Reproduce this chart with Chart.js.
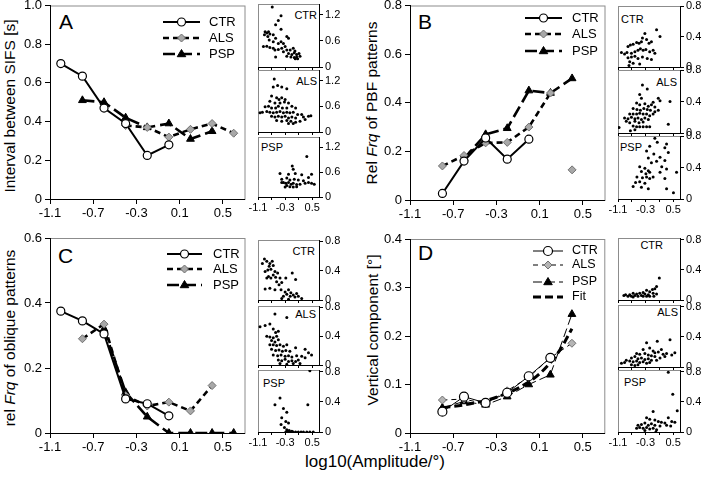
<!DOCTYPE html>
<html>
<head>
<meta charset="utf-8">
<script src="https://cdn.jsdelivr.net/npm/chart.js@4.4.1/dist/chart.umd.min.js"></script>
<style>
body { margin: 0; background: #fff; }
#wrap { position: relative; width: 708px; height: 478px; overflow: hidden; background: #fff;
        font-family: "Liberation Sans", Arial, sans-serif; color: #000; }
canvas { position: absolute; }
.t { position: absolute; white-space: nowrap; line-height: 1; transform: translateY(-50%); }
.tr { position: absolute; white-space: nowrap; line-height: 1; transform: translate(-100%, -50%); }
.yt { position: absolute; white-space: nowrap; line-height: 1; font-size: 15.5px;
      transform: translate(-50%, -50%) rotate(-90deg); }
.lab { font-size: 11px; }
.big { font-size: 21px; }
</style>
</head>
<body>
<div id="wrap">
  <div class="yt" style="left:10px; top:106px;">Interval between SIFS [s]</div>
  <div class="yt" style="left:372px; top:103px;">Rel <i>Frq</i> of PBF patterns</div>
  <div class="yt" style="left:10px; top:338px;">rel <i>Frq</i> of oblique patterns</div>
  <div class="yt" style="left:373px; top:330px;">Vertical component [°]</div>
  <div class="t" style="left:305px; top:461px; font-size:17px;">log10(Amplitude/°)</div>

  <div class="t big" style="left:59px; top:21px;">A</div>
  <div class="t big" style="left:418px; top:21px;">B</div>
  <div class="t big" style="left:58px; top:255px;">C</div>
  <div class="t big" style="left:418px; top:252px;">D</div>

  <div class="tr lab" style="left:317px; top:15px;">CTR</div>
  <div class="tr lab" style="left:317px; top:81px;">ALS</div>
  <div class="t lab" style="left:261px; top:147px;">PSP</div>
  <div class="t lab" style="left:621px; top:19px;">CTR</div>
  <div class="tr lab" style="left:677px; top:82px;">ALS</div>
  <div class="t lab" style="left:620px; top:147px;">PSP</div>
  <div class="tr lab" style="left:315px; top:251px;">CTR</div>
  <div class="tr lab" style="left:316px; top:314px;">ALS</div>
  <div class="t lab" style="left:263px; top:383px;">PSP</div>
  <div class="tr lab" style="left:663px; top:245px;">CTR</div>
  <div class="tr lab" style="left:678px; top:312px;">ALS</div>
  <div class="t lab" style="left:624px; top:382px;">PSP</div>
</div>
<script>
const family = '"Liberation Sans", Arial, sans-serif';
const mainXTicks = [-1.1, -0.7, -0.3, 0.1, 0.5];
const insetXTicks = [-1.1, -0.7, -0.3, 0.1, 0.5];
const insetXLabels = [-1.1, -0.3, 0.5];

// panel A - interval between SIFS
const aCtrX = [-1.0, -0.8, -0.6, -0.4, -0.2, 0.0];
const aCtrY = [0.70, 0.635, 0.47, 0.39, 0.225, 0.28];
const aAlsX = [-0.4, -0.2, 0.0, 0.2, 0.4, 0.6];
const aAlsY = [0.38, 0.37, 0.32, 0.36, 0.39, 0.34];
const aPspX = [-0.8, -0.6, -0.4, -0.2, 0.0, 0.2, 0.4];
const aPspY = [0.51, 0.50, 0.42, 0.37, 0.39, 0.31, 0.35];
const aYTicks = [0, 0.2, 0.4, 0.6, 0.8, 1.0];

// panel B - rel frq of PBF patterns (last ALS point stands alone)
const bCtrX = [-0.8, -0.6, -0.4, -0.2, 0.0];
const bCtrY = [0.027, 0.16, 0.255, 0.168, 0.25];
const bAlsX = [-0.8, -0.6, -0.4, -0.2, 0.0, 0.2, 0.3, 0.4];
const bAlsY = [0.14, 0.183, 0.235, 0.237, 0.30, 0.44, null, 0.124];
const bPspX = [-0.6, -0.4, -0.2, 0.0, 0.2, 0.4];
const bPspY = [0.17, 0.27, 0.295, 0.45, 0.44, 0.50];
const bYTicks = [0, 0.2, 0.4, 0.6, 0.8];

// panel C - rel frq of oblique patterns
const cCtrX = [-1.0, -0.8, -0.6, -0.4, -0.2, 0.0];
const cCtrY = [0.375, 0.345, 0.305, 0.105, 0.09, 0.053];
const cAlsX = [-0.8, -0.6, -0.4, -0.2, 0.0, 0.2, 0.4];
const cAlsY = [0.29, 0.335, 0.115, 0.083, 0.095, 0.068, 0.146];
const cPspX = [-0.6, -0.4, -0.2, 0.0, 0.2, 0.4, 0.6];
const cPspY = [0.32, 0.125, 0.05, 0, 0, 0, 0];
const cYTicks = [0, 0.2, 0.4, 0.6];

// panel D - vertical component
const dCtrX = [-0.8, -0.6, -0.4, -0.2, 0.0, 0.2];
const dCtrY = [0.044, 0.075, 0.062, 0.083, 0.117, 0.155];
const dAlsX = [-0.8, -0.6, -0.4, -0.2, 0.0, 0.2, 0.4];
const dAlsY = [0.068, 0.07, 0.06, 0.087, 0.115, 0.155, 0.185];
const dPspX = [-0.8, -0.6, -0.4, -0.2, 0.0, 0.2, 0.4];
const dPspY = [0.052, 0.065, 0.058, 0.075, 0.10, 0.12, 0.245];
const dFitX = [-0.8, -0.6, -0.4, -0.2, 0.0, 0.1, 0.2, 0.3, 0.4];
const dFitY = [0.052, 0.058, 0.067, 0.082, 0.105, 0.122, 0.145, 0.175, 0.215];
const dYTicks = [0, 0.1, 0.2, 0.3, 0.4];

// inset scatter points [x, y]
const aCtrPts = [[-0.68,1.38],[-0.42,1.18],[-0.5,1.07],[-0.58,0.97],[-0.42,0.87],[-0.89,0.81],[-0.84,0.78],[-0.79,0.81],
  [-0.91,0.74],[-0.81,0.70],[-0.75,0.76],[-0.65,0.74],[-0.58,0.66],[-0.77,0.62],[-0.25,0.70],[-0.2,0.66],[-0.65,0.58],
  [-0.5,0.54],[-0.42,0.58],[-0.35,0.54],[-0.94,0.47],[-0.84,0.48],[-0.75,0.45],[-0.65,0.43],[-0.6,0.39],[-0.5,0.40],
  [-0.4,0.43],[-0.3,0.47],[-0.35,0.35],[-0.25,0.39],[-0.15,0.39],[-0.06,0.43],[-0.01,0.37],[-0.2,0.31],[-0.1,0.29],
  [-0.03,0.33],[0.04,0.29],[0.11,0.31],[-0.25,0.25],[-0.13,0.23],[-0.03,0.22],[0.04,0.23],[0.14,0.25],[-0.58,0.23],
  [0.0,0.19],[0.07,0.19]];
const aAlsPts = [[-0.62,1.24],[-0.52,1.09],[-0.4,1.05],[-0.25,1.01],[-0.65,1.05],[-0.7,0.84],[-0.55,0.80],[-0.48,0.76],
  [-0.4,0.8],[-0.3,0.76],[-0.75,0.72],[-0.6,0.68],[-0.45,0.68],[-0.32,0.70],[-0.2,0.68],[-0.1,0.60],[-0.89,0.59],
  [-0.79,0.60],[-0.7,0.56],[-0.58,0.56],[-0.5,0.60],[-0.38,0.56],[-0.25,0.56],[0.01,0.56],[-1.04,0.45],[-0.97,0.46],
  [-0.84,0.48],[-0.75,0.46],[-0.65,0.45],[-0.55,0.46],[-0.45,0.48],[-0.35,0.45],[-0.25,0.46],[-0.16,0.45],[-0.06,0.46],
  [0.07,0.41],[0.19,0.41],[-0.7,0.37],[-0.6,0.35],[-0.5,0.37],[-0.4,0.35],[-0.3,0.37],[-0.2,0.33],[-0.1,0.35],[0.01,0.33],
  [0.24,0.35],[0.39,0.37],[0.46,0.38],[-0.55,0.27],[-0.4,0.25],[-0.25,0.27],[-0.13,0.25],[0.01,0.23],[0.14,0.25],
  [0.29,0.29],[-0.2,0.2],[-0.06,0.2]];
const aPspPts = [[0.34,0.98],[-0.09,0.75],[-0.06,0.67],[-0.45,0.57],[-0.2,0.55],[0.0,0.57],[0.19,0.54],[0.48,0.55],
  [0.39,0.47],[-0.4,0.43],[-0.25,0.46],[-0.16,0.41],[-0.03,0.43],[0.09,0.41],[0.24,0.39],[0.39,0.35],[0.48,0.33],
  [0.56,0.31],[-0.35,0.35],[-0.28,0.33],[-0.2,0.35],[-0.12,0.31],[-0.06,0.33],[0.04,0.3],[0.14,0.31],[0.29,0.33],
  [-0.25,0.28],[-0.16,0.25],[-0.06,0.24],[0.04,0.25],[-0.3,0.24],[-0.4,0.35]];
const bCtrPts = [[0.02,0.49],[0.12,0.40],[-0.32,0.44],[-0.39,0.38],[-0.27,0.36],[-0.42,0.33],[-0.49,0.31],[-0.56,0.32],
  [-0.66,0.30],[-0.74,0.29],[-0.81,0.27],[-0.2,0.31],[-0.13,0.33],[-1.0,0.19],[-0.91,0.17],[-0.84,0.19],[-0.71,0.18],
  [-0.61,0.2],[-0.52,0.22],[-0.45,0.24],[-0.37,0.22],[-0.29,0.23],[-0.18,0.2],[-0.08,0.22],[-0.03,0.18],[-0.81,0.12],
  [-0.71,0.13],[-0.61,0.14],[-0.52,0.11],[-0.39,0.13],[-0.25,0.11],[-0.13,0.1],[-0.76,0.07],[-0.66,0.05],[-0.78,0.02],
  [-0.47,0.04]];
const bAlsPts = [[-0.39,0.61],[-0.25,0.56],[-0.47,0.49],[-0.42,0.44],[0.07,0.44],[0.12,0.41],[0.41,0.40],[-0.08,0.39],
  [-0.56,0.38],[-0.47,0.36],[-0.32,0.37],[-0.22,0.34],[-0.13,0.36],[-0.03,0.33],[-0.66,0.31],[-0.55,0.30],[-0.45,0.29],
  [-0.35,0.31],[-0.25,0.30],[-0.16,0.29],[-0.03,0.27],[0.07,0.29],[-0.76,0.24],[-0.66,0.24],[-0.56,0.24],[-0.47,0.25],
  [-0.37,0.24],[-0.27,0.24],[-0.18,0.22],[-0.08,0.24],[-0.91,0.19],[-0.81,0.18],[-0.71,0.2],[-0.61,0.18],[-0.52,0.19],
  [-0.42,0.17],[-0.32,0.19],[-0.22,0.17],[-0.86,0.15],[-0.76,0.13],[-0.61,0.15],[-0.49,0.13],[-0.37,0.14],[0.36,0.11],
  [-0.66,0.09],[-0.56,0.08],[-0.47,0.08],[-0.37,0.08],[-0.27,0.08],[-0.18,0.08],[-1.07,0.07],[-0.74,0.03],[-0.61,0.04]];
const bPspPts = [[-0.03,0.77],[0.04,0.72],[0.31,0.70],[-0.18,0.67],[0.26,0.65],[-0.27,0.61],[0.36,0.59],[-0.06,0.57],
  [0.12,0.53],[-0.22,0.52],[0.02,0.48],[0.26,0.49],[-0.13,0.46],[-0.47,0.41],[0.17,0.41],[-0.32,0.39],[0.31,0.38],
  [-0.22,0.36],[-0.42,0.35],[-0.29,0.32],[-0.18,0.34],[0.12,0.34],[0.6,0.34],[-0.55,0.28],[-0.39,0.27],[-0.27,0.28],
  [-0.18,0.26],[-0.08,0.28],[0.26,0.26],[-0.59,0.21],[-0.47,0.22],[-0.32,0.2],[-0.66,0.16],[-0.42,0.15],[-0.22,0.13],
  [0.31,0.13],[0.51,0.08]];
const cCtrPts = [[-0.91,0.56],[-0.84,0.53],[-0.97,0.5],[-0.75,0.5],[-0.68,0.53],[-0.77,0.46],[-0.65,0.47],[-0.72,0.42],
  [-0.81,0.41],[-0.89,0.39],[-0.6,0.39],[-0.52,0.37],[-0.65,0.34],[-0.79,0.32],[-0.84,0.3],[-0.72,0.3],[-0.58,0.31],
  [-0.45,0.3],[-0.28,0.3],[-0.09,0.37],[0.01,0.28],[-0.55,0.25],[-0.4,0.24],[-0.48,0.21],[-0.75,0.16],[-0.89,0.15],
  [-0.6,0.14],[-0.42,0.14],[-0.3,0.11],[-0.2,0.14],[-0.13,0.1],[-0.25,0.08],[-0.06,0.07],[0.04,0.09],[0.09,0.05],
  [-0.35,0.05],[-0.15,0.05],[-0.01,0.04],[0.19,0.02],[-0.2,0.01],[-0.4,0.02]];
const cAlsPts = [[-0.25,0.66],[-0.6,0.71],[-1.04,0.53],[-0.89,0.55],[-0.75,0.57],[-0.65,0.5],[-0.58,0.45],[-0.5,0.47],
  [-0.84,0.4],[-0.75,0.39],[-0.65,0.38],[-0.55,0.4],[-0.5,0.35],[-0.7,0.34],[-0.6,0.32],[-0.75,0.28],[-0.65,0.28],
  [-0.55,0.27],[-0.45,0.28],[-0.35,0.26],[-0.25,0.28],[0.01,0.24],[0.29,0.22],[-0.7,0.22],[-0.58,0.2],[-0.48,0.21],
  [-0.38,0.19],[-0.28,0.2],[-0.16,0.19],[0.39,0.17],[0.48,0.14],[-0.65,0.14],[-0.52,0.13],[-0.42,0.14],[-0.3,0.12],
  [-0.2,0.13],[-0.1,0.11],[0.04,0.13],[0.19,0.12],[0.29,0.1],[-0.5,0.07],[-0.4,0.06],[-0.3,0.08],[-0.2,0.05],[-0.1,0.06],
  [0.01,0.05],[0.09,0.07],[-0.45,0.02],[-0.25,0.01],[-0.06,0.02],[0.14,0.02]];
const cPspPts = [[0.43,0.81],[-0.6,0.36],[-0.45,0.45],[-0.35,0.31],[0.37,0.36],[-0.25,0.26],[-0.4,0.19],[-0.28,0.14],
  [-0.2,0.12],[-0.42,0.1],[-0.32,0.06],[-0.25,0.03],[-0.18,0.02],[-0.15,0],[-0.1,0.01],[-0.06,0],[0.01,0],[0.09,0],
  [0.17,0],[0.24,0],[0.34,0],[0.43,0],[0.53,0],[-0.22,0],[-0.28,0]];
const dCtrPts = [[0.1,0.29],[0.02,0.18],[-0.03,0.15],[-0.27,0.13],[-0.18,0.11],[-0.1,0.14],[-0.37,0.1],[-0.47,0.09],
  [-0.56,0.08],[-0.66,0.09],[-0.76,0.07],[-0.88,0.07],[-0.93,0.06],[-0.32,0.08],[-0.22,0.07],[-0.08,0.09],[0.02,0.08],
  [-0.42,0.06],[-0.52,0.05],[-0.61,0.06],[-0.71,0.05],[-0.81,0.05],[-0.18,0.05],[-0.06,0.05],[-0.27,0.05],[-0.37,0.05],
  [-0.66,0.04]];
const dAlsPts = [[0.41,0.36],[0.04,0.34],[-0.27,0.32],[0.16,0.23],[0.55,0.19],[0.31,0.18],[0.46,0.16],[-0.37,0.23],
  [-0.18,0.25],[-0.08,0.21],[-0.03,0.19],[0.07,0.2],[0.26,0.14],[0.21,0.17],[-0.56,0.18],[-0.47,0.17],[-0.32,0.18],
  [-0.22,0.16],[-0.13,0.15],[-0.03,0.14],[0.12,0.12],[-0.71,0.12],[-0.61,0.14],[-0.52,0.11],[-0.42,0.12],[-0.32,0.1],
  [-0.22,0.11],[-0.13,0.09],[0.02,0.09],[-0.86,0.09],[-0.76,0.08],[-0.66,0.07],[-0.56,0.08],[-0.47,0.06],[-0.37,0.07],
  [-0.27,0.05],[-0.18,0.06],[-1.0,0.05],[-0.91,0.06],[-0.71,0.03],[-0.61,0.02],[-0.52,0.03]];
const dPspPts = [[0.36,0.79],[0.49,0.5],[0.62,0.28],[-0.08,0.27],[0.36,0.19],[0.46,0.14],[0.55,0.13],[-0.27,0.19],
  [-0.18,0.17],[-0.03,0.16],[0.07,0.14],[0.16,0.13],[0.26,0.12],[-0.52,0.09],[-0.42,0.1],[-0.32,0.12],[-0.22,0.09],
  [-0.13,0.11],[-0.03,0.09],[0.12,0.08],[0.31,0.09],[0.43,0.08],[-0.47,0.06],[-0.37,0.05],[-0.27,0.06],[-0.18,0.04],
  [-0.08,0.05],[0.02,0.03],[-0.56,0.05],[-0.32,0.02],[0.0,0.0]];

const styleCTR = { borderColor: '#000', borderWidth: 2, pointStyle: 'circle', pointRadius: 4,
  pointBackgroundColor: '#fff', pointBorderColor: '#000', pointBorderWidth: 1.2 };
const styleALS = { borderColor: '#000', borderWidth: 2.6, borderDash: [6, 4], pointStyle: 'rectRot', pointRadius: 4,
  pointBackgroundColor: '#a8a8a8', pointBorderColor: '#707070', pointBorderWidth: 1 };
const stylePSP = { borderColor: '#000', borderWidth: 2.6, borderDash: [12, 5], pointStyle: 'triangle', pointRadius: 4.5,
  pointBackgroundColor: '#000', pointBorderColor: '#000', pointBorderWidth: 1 };
const styleCTRd = Object.assign({}, styleCTR, { borderWidth: 1, pointRadius: 4.5 });
const styleALSd = Object.assign({}, styleALS, { borderWidth: 1, borderDash: [5, 4], pointBackgroundColor: '#b5b5b5' });
const stylePSPd = Object.assign({}, stylePSP, { borderWidth: 1, borderDash: [9, 4] });
const styleFit = { borderColor: '#000', borderWidth: 3, borderDash: [8, 4], pointRadius: 0, tension: 0.4,
  cubicInterpolationMode: 'monotone' };

function series(xs, ys, style) {
  return Object.assign({ data: xs.map((x, i) => ({ x: x, y: ys[i] })), showLine: true }, style);
}

const framePlugin = {
  id: 'frame',
  beforeDraw(chart) {
    const a = chart.chartArea, ctx = chart.ctx;
    ctx.save();
    ctx.strokeStyle = '#8c8c8c';
    ctx.lineWidth = 1;
    ctx.strokeRect(a.left + 0.5, a.top + 0.5, a.right - a.left, a.bottom - a.top);
    ctx.restore();
  }
};

function marker(ctx, style, r, x, y) {
  ctx.beginPath();
  if (style === 'circle') {
    ctx.arc(x, y, r, 0, Math.PI * 2);
  } else if (style === 'rectRot') {
    ctx.moveTo(x, y - r); ctx.lineTo(x + r, y); ctx.lineTo(x, y + r); ctx.lineTo(x - r, y);
  } else if (style === 'triangle') {
    ctx.moveTo(x, y - r); ctx.lineTo(x + r * 0.95, y + r * 0.6); ctx.lineTo(x - r * 0.95, y + r * 0.6);
  }
  ctx.closePath();
  ctx.fill();
  ctx.stroke();
}

// legend: line sample with marker in the middle, then name
const keyPlugin = {
  id: 'key',
  afterDatasetsDraw(chart, args, opts) {
    if (!opts.names) return;
    const ctx = chart.ctx;
    opts.names.forEach((name, i) => {
      const ds = chart.data.datasets[i];
      const y = opts.ys[i];
      ctx.save();
      ctx.strokeStyle = ds.borderColor;
      ctx.lineWidth = ds.borderWidth;
      ctx.setLineDash(ds.borderDash || []);
      ctx.beginPath();
      ctx.moveTo(opts.x1, y);
      ctx.lineTo(opts.x2, y);
      ctx.stroke();
      ctx.setLineDash([]);
      if (ds.pointRadius > 0) {
        ctx.fillStyle = ds.pointBackgroundColor;
        ctx.strokeStyle = ds.pointBorderColor;
        ctx.lineWidth = ds.pointBorderWidth;
        marker(ctx, ds.pointStyle, ds.pointRadius, (opts.x1 + opts.x2) / 2, y);
      }
      ctx.fillStyle = '#000';
      ctx.font = opts.size + 'px ' + family;
      ctx.textBaseline = 'middle';
      ctx.fillText(name, opts.tx, y);
      ctx.restore();
    });
  }
};

function mkCanvas(box) {
  const c = document.createElement('canvas');
  c.width = box.w;
  c.height = box.h;
  c.style.left = box.left + 'px';
  c.style.top = box.top + 'px';
  document.getElementById('wrap').appendChild(c);
  return c;
}

function mainChart(box, area, sets, yMax, yTicks, key) {
  const c = mkCanvas(box);
  const L = area.l - box.left, T = area.t - box.top;
  const R = box.left + box.w - area.r, B = box.top + box.h - area.b;
  key.x1 -= box.left; key.x2 -= box.left; key.tx -= box.left;
  key.ys = key.ys.map(v => v - box.top);
  return new Chart(c, {
    type: 'scatter',
    data: { datasets: sets },
    options: {
      responsive: false, animation: false, events: [],
      layout: { padding: { left: 0, top: T, right: R, bottom: 0 } },
      plugins: { legend: { display: false }, tooltip: { enabled: false }, key: key },
      scales: {
        x: {
          type: 'linear', min: -1.1, max: 0.7, position: 'bottom',
          afterBuildTicks: s => { s.ticks = mainXTicks.map(v => ({ value: v })); },
          afterFit: s => { s.height = B; s.paddingLeft = 0; s.paddingRight = 0; },
          ticks: { callback: v => v.toFixed(1), color: '#000', font: { family: family, size: 13 },
                   padding: 2, maxRotation: 0, autoSkip: false },
          grid: { drawOnChartArea: false, color: '#000', tickLength: 5 },
          border: { color: '#000', width: 1 }
        },
        y: {
          type: 'linear', min: 0, max: yMax, position: 'left',
          afterBuildTicks: s => { s.ticks = yTicks.map(v => ({ value: v })); },
          afterFit: s => { s.width = L; s.paddingTop = 0; s.paddingBottom = 0; },
          ticks: { callback: v => v === 0 ? '0' : v.toFixed(1), color: '#000',
                   font: { family: family, size: 13 }, padding: 3, autoSkip: false },
          grid: { drawOnChartArea: false, color: '#000', tickLength: 5 },
          border: { color: '#000', width: 1 }
        }
      }
    },
    plugins: [framePlugin, keyPlugin]
  });
}

function insetChart(box, area, pts, yMax, yTicks, showX) {
  const c = mkCanvas(box);
  const L = area.l - box.left, T = area.t - box.top;
  const R = box.left + box.w - area.r, B = box.top + box.h - area.b;
  return new Chart(c, {
    type: 'scatter',
    data: { datasets: [{ data: pts.map(p => ({ x: p[0], y: p[1] })), pointRadius: 1.5,
                         pointBackgroundColor: '#000', pointBorderWidth: 0 }] },
    options: {
      responsive: false, animation: false, events: [],
      layout: { padding: { left: L, top: T, right: 0, bottom: 0 } },
      plugins: { legend: { display: false }, tooltip: { enabled: false } },
      scales: {
        x: {
          type: 'linear', min: -1.1, max: 0.7, position: 'bottom',
          afterBuildTicks: s => { s.ticks = insetXTicks.map(v => ({ value: v })); },
          afterFit: s => { s.height = B; s.paddingLeft = 0; s.paddingRight = 0; },
          ticks: { display: showX, callback: v => insetXLabels.includes(v) ? v.toFixed(1) : '',
                   color: '#000', font: { family: family, size: 11 }, padding: 1, maxRotation: 0, autoSkip: false },
          grid: { drawOnChartArea: false, color: '#000', tickLength: 3 },
          border: { color: '#000', width: 1 }
        },
        y: {
          type: 'linear', min: 0, max: yMax, position: 'right',
          afterBuildTicks: s => { s.ticks = yTicks.map(v => ({ value: v })); },
          afterFit: s => { s.width = R; s.paddingTop = 0; s.paddingBottom = 0; },
          ticks: { callback: v => v === 0 ? '0' : v.toFixed(1), color: '#000',
                   font: { family: family, size: 11 }, padding: 2, autoSkip: false },
          grid: { drawOnChartArea: false, color: '#000', tickLength: 4 },
          border: { color: '#000', width: 1 }
        }
      }
    },
    plugins: [framePlugin]
  });
}

function insetBox(l, r, t, b, bottom) {
  return { left: l - 16, top: t - 8, w: (r - l) + 16 + 30, h: (b - t) + 8 + (bottom ? 20 : 5) };
}

mainChart({ left: 0, top: 0, w: 250, h: 225 }, { l: 50, t: 5, r: 245, b: 199 },
  [series(aCtrX, aCtrY, styleCTR), series(aAlsX, aAlsY, styleALS), series(aPspX, aPspY, stylePSP)],
  1.0, aYTicks, { names: ['CTR', 'ALS', 'PSP'], x1: 163, x2: 200, tx: 209, ys: [22, 38, 54], size: 13 });
mainChart({ left: 360, top: 0, w: 250, h: 225 }, { l: 410, t: 5, r: 605, b: 200 },
  [series(bCtrX, bCtrY, styleCTR), series(bAlsX, bAlsY, styleALS), series(bPspX, bPspY, stylePSP)],
  0.8, bYTicks, { names: ['CTR', 'ALS', 'PSP'], x1: 525, x2: 562, tx: 572, ys: [18, 34, 51], size: 13 });
mainChart({ left: 0, top: 225, w: 250, h: 228 }, { l: 50, t: 238, r: 245, b: 433 },
  [series(cCtrX, cCtrY, styleCTR), series(cAlsX, cAlsY, styleALS), series(cPspX, cPspY, stylePSP)],
  0.6, cYTicks, { names: ['CTR', 'ALS', 'PSP'], x1: 167, x2: 202, tx: 213, ys: [254, 269, 285], size: 13 });
mainChart({ left: 360, top: 225, w: 250, h: 228 }, { l: 410, t: 239, r: 605, b: 433 },
  [series(dCtrX, dCtrY, styleCTRd), series(dAlsX, dAlsY, styleALSd), series(dPspX, dPspY, stylePSPd),
   series(dFitX, dFitY, styleFit)],
  0.4, dYTicks, { names: ['CTR', 'ALS', 'PSP', 'Fit'], x1: 533, x2: 563, tx: 572, ys: [251, 265, 282, 297], size: 12.5 });

const insetsA = [[aCtrPts, 4, 67, false], [aAlsPts, 70, 132, false], [aPspPts, 137, 197, true]];
const insetsB = [[bCtrPts, 6, 67, false], [bAlsPts, 70, 133, false], [bPspPts, 136, 199, true]];
const insetsC = [[cCtrPts, 240, 300, false], [cAlsPts, 306, 365, false], [cPspPts, 370, 432, true]];
const insetsD = [[dCtrPts, 238, 300, false], [dAlsPts, 305, 367, false], [dPspPts, 370, 432, true]];

insetsA.forEach(p => insetChart(insetBox(258, 319, p[1], p[2], p[3]), { l: 258, r: 319, t: p[1], b: p[2] },
  p[0], 1.45, [0, 0.6, 1.2], p[3]));
insetsB.forEach(p => insetChart(insetBox(618, 680, p[1], p[2], p[3]), { l: 618, r: 680, t: p[1], b: p[2] },
  p[0], 0.8, [0, 0.4, 0.8], p[3]));
insetsC.forEach(p => insetChart(insetBox(258, 319, p[1], p[2], p[3]), { l: 258, r: 319, t: p[1], b: p[2] },
  p[0], 0.82, [0, 0.4, 0.8], p[3]));
insetsD.forEach(p => insetChart(insetBox(618, 680, p[1], p[2], p[3]), { l: 618, r: 680, t: p[1], b: p[2] },
  p[0], 0.82, [0, 0.4, 0.8], p[3]));
</script>
</body>
</html>
